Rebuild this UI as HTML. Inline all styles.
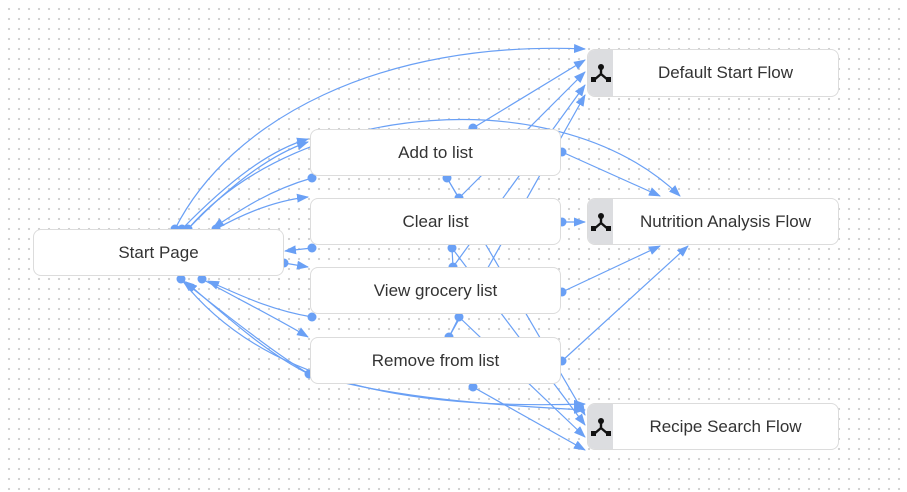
<!DOCTYPE html>
<html><head><meta charset="utf-8"><style>
body{margin:0;width:907px;height:492px;overflow:hidden;background:#fff;font-family:"Liberation Sans",sans-serif;}
.bg{position:absolute;left:0;top:0;width:907px;height:492px;background-image:radial-gradient(circle,#cfcfcf 1px,transparent 1.3px);background-size:10px 10px;background-position:4px 4px;}
.n{position:absolute;background:#fff;border:1px solid #dcdcdc;border-radius:8px;box-sizing:border-box;display:flex;align-items:center;justify-content:center;font-size:17px;color:#333;}
.f{padding-left:25px;overflow:hidden}
.f .ic{position:absolute;left:0;top:0;bottom:0;width:25px;background:#dcdde0;display:flex;align-items:center;justify-content:center}
svg{position:absolute;left:0;top:0}
</style></head><body>
<div class="bg"></div>
<svg width="907" height="492">
<defs><marker id="a" markerWidth="12" markerHeight="9" refX="11" refY="4.5" orient="auto" markerUnits="userSpaceOnUse"><path d="M0,0L12,4.5L0,9z" fill="#6aa0f5"/></marker></defs>
<g fill="none" stroke="#6aa0f5" stroke-width="1.2" marker-end="url(#a)">
<path d="M175,229 C230,120 380,40 585,49"/>
<path d="M182,229 C230,180 270,150 308,139"/>
<path d="M188,229 C230,185 270,155 308,142"/>
<path d="M188,229 C300,100 560,80 680,196"/>
<path d="M312,178 C270,190 240,210 213,228"/>
<path d="M216,229 C250,210 280,200 308,197"/>
<path d="M312,248 L285,251"/>
<path d="M284,263 L308,267"/>
<path d="M312,317 C270,310 240,295 208,281"/>
<path d="M202,279 C240,300 280,320 308,337"/>
<path d="M309,374 C270,350 220,310 183,281"/>
<path d="M309,374 C270,355 230,320 186,282"/>
<path d="M181,279 C260,380 400,410 585,404"/>
<path d="M473,128 L585,60"/>
<path d="M562,152 L660,196"/>
<path d="M459,198 L585,72"/>
<path d="M453,267 L585,85"/>
<path d="M449,337 L585,95"/>
<path d="M562,222 L585,222"/>
<path d="M452,248 L585,425"/>
<path d="M447,178 L585,415"/>
<path d="M459,317 L585,437"/>
<path d="M562,292 L660,246"/>
<path d="M562,361 L688,246"/>
<path d="M473,387 L585,450"/>
<path d="M309,374 C400,400 500,405 585,410"/>
</g>
<g stroke="#6aa0f5" stroke-width="1.2">
<path d="M447,178 L459,198"/><path d="M452,248 L453,267"/><path d="M459,317 L449,337"/>
</g>
<g fill="#6aa0f5">
<circle cx="175" cy="229" r="4.5"/><circle cx="182" cy="229" r="4.5"/><circle cx="188" cy="229" r="4.5"/><circle cx="216" cy="229" r="4.5"/>
<circle cx="181" cy="279" r="4.5"/><circle cx="202" cy="279" r="4.5"/><circle cx="284" cy="263" r="4.5"/>
<circle cx="312" cy="178" r="4.5"/><circle cx="312" cy="248" r="4.5"/><circle cx="312" cy="317" r="4.5"/><circle cx="309" cy="374" r="4.5"/>
<circle cx="562" cy="152" r="4.5"/><circle cx="562" cy="222" r="4.5"/><circle cx="562" cy="292" r="4.5"/><circle cx="562" cy="361" r="4.5"/>
<circle cx="473" cy="128" r="4.5"/><circle cx="447" cy="178" r="4.5"/><circle cx="459" cy="198" r="4.5"/><circle cx="452" cy="248" r="4.5"/>
<circle cx="453" cy="267" r="4.5"/><circle cx="459" cy="317" r="4.5"/><circle cx="449" cy="337" r="4.5"/><circle cx="473" cy="387" r="4.5"/>
</g>
</svg>
<div class="n" style="left:33px;top:229px;width:251px;height:47px">Start Page</div>
<div class="n" style="left:310px;top:129px;width:251px;height:47px">Add to list</div>
<div class="n" style="left:310px;top:198px;width:251px;height:47px">Clear list</div>
<div class="n" style="left:310px;top:267px;width:251px;height:47px">View grocery list</div>
<div class="n" style="left:310px;top:337px;width:251px;height:47px">Remove from list</div>
<div class="n f" style="left:587px;top:49px;width:252px;height:48px"><div class="ic"><svg width="20" height="20" style="position:static"><circle cx="10" cy="4" r="3" fill="#111"/><path d="M10,4V11L3,17M10,11L17,17" stroke="#111" stroke-width="2.4" fill="none"/><rect x="0" y="14" width="5" height="5" fill="#111"/><rect x="15" y="14" width="5" height="5" fill="#111"/></svg></div>Default Start Flow</div>
<div class="n f" style="left:587px;top:198px;width:252px;height:47px"><div class="ic"><svg width="20" height="20" style="position:static"><circle cx="10" cy="4" r="3" fill="#111"/><path d="M10,4V11L3,17M10,11L17,17" stroke="#111" stroke-width="2.4" fill="none"/><rect x="0" y="14" width="5" height="5" fill="#111"/><rect x="15" y="14" width="5" height="5" fill="#111"/></svg></div>Nutrition Analysis Flow</div>
<div class="n f" style="left:587px;top:403px;width:252px;height:47px"><div class="ic"><svg width="20" height="20" style="position:static"><circle cx="10" cy="4" r="3" fill="#111"/><path d="M10,4V11L3,17M10,11L17,17" stroke="#111" stroke-width="2.4" fill="none"/><rect x="0" y="14" width="5" height="5" fill="#111"/><rect x="15" y="14" width="5" height="5" fill="#111"/></svg></div>Recipe Search Flow</div>
</body></html>
